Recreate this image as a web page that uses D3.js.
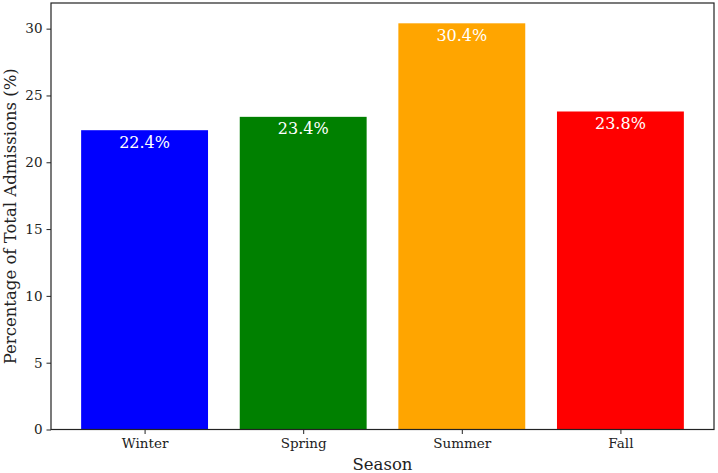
<!DOCTYPE html>
<html><head><meta charset="utf-8">
<script src="https://cdn.jsdelivr.net/npm/d3@7"></script>
<style>body{margin:0;background:#fff}svg{display:block}text{font-family:"DejaVu Serif",serif}</style>
</head><body>
<svg id="c" width="718" height="473"></svg>
<script>
const seasons = ["Winter","Spring","Summer","Fall"];
const percentages = [22.4, 23.4, 30.4, 23.8];
const colors = ["#0000ff","#008000","#ffa500","#ff0000"];
const yTicks = [0,5,10,15,20,25,30];

const svg = d3.select("#c");
const m = {l:51, r:4, t:3, b:43.5};
const W = 718, H = 473;
const x = d3.scaleLinear().domain([-0.59, 3.59]).range([m.l, W - m.r]);
const y = d3.scaleLinear().domain([0, 31.92]).range([H - m.b, m.t]);

svg.selectAll("rect.bar").data(percentages).enter().append("rect")
  .attr("class","bar")
  .attr("x",(d,i)=>x(i-0.4)).attr("width",(d,i)=>x(i+0.4)-x(i-0.4))
  .attr("y",d=>y(d)).attr("height",d=>y(0)-y(d))
  .attr("fill",(d,i)=>colors[i]);

svg.selectAll("text.lbl").data(percentages).enter().append("text")
  .attr("class","lbl")
  .attr("x",(d,i)=>x(i)).attr("y",d=>y(d-1.3))
  .attr("text-anchor","middle").attr("fill","#fff").attr("font-size",16)
  .text(d=>d.toFixed(1)+"%");

const yAxis = svg.append("g").attr("transform",`translate(${m.l},0)`)
  .call(d3.axisLeft(y).tickValues(yTicks).tickSize(4.5).tickPadding(4));
const xAxis = svg.append("g").attr("transform",`translate(0,${H-m.b})`)
  .call(d3.axisBottom(x).tickValues(d3.range(seasons.length)).tickFormat(i=>seasons[i]).tickSize(4.5).tickPadding(4));
[yAxis,xAxis].forEach(g=>{g.select(".domain").remove();g.selectAll("text").attr("font-size",13.5).attr("fill","#222").style("font-family","DejaVu Serif");g.selectAll("line").attr("stroke","#222")});

svg.append("rect").attr("x",m.l).attr("y",m.t).attr("width",W-m.r-m.l).attr("height",H-m.b-m.t)
  .attr("fill","none").attr("stroke","#222").attr("stroke-width",1.2);

svg.append("text").attr("x",(m.l+W-m.r)/2).attr("y",470).attr("text-anchor","middle")
  .attr("font-size",16.5).attr("fill","#222").text("Season");
svg.append("text").attr("transform",`translate(16,${(m.t+H-m.b)/2}) rotate(-90)`).attr("text-anchor","middle")
  .attr("font-size",16.5).attr("fill","#222").text("Percentage of Total Admissions (%)");
</script>
</body></html>
